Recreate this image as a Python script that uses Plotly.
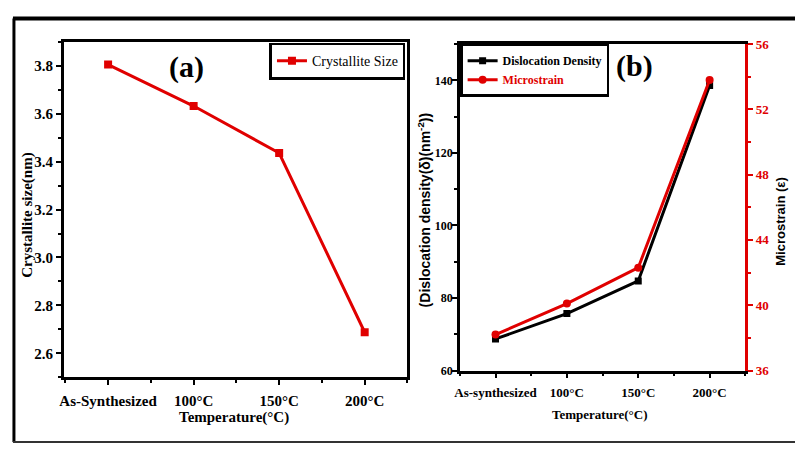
import plotly.graph_objects as go

# Annealing conditions (x axis categories)
categories_a = ["As-Synthesized", "100°C", "150°C", "200°C"]
categories_b = ["As-synthesized", "100°C", "150°C", "200°C"]

# Panel (a): crystallite size in nm
crystallite_size = [3.805, 3.632, 3.436, 2.688]

# Panel (b): dislocation density and microstrain
dislocation_density = [68.7, 75.7, 84.7, 138.6]
microstrain = [38.2, 40.1, 42.3, 53.8]

W, H = 795, 452
RED = "#e00000"
SERIF = "Liberation Serif"
SANS = "Liberation Sans"


def px(x):
    return x / W


def py(y):
    return 1 - y / H


xpos = list(range(len(categories_a)))

fig = go.Figure()

fig.add_trace(go.Scatter(
    x=xpos, y=crystallite_size, mode="lines+markers", name="Crystallite Size",
    line=dict(color=RED, width=3), marker=dict(symbol="square", size=8, color=RED),
    xaxis="x", yaxis="y", legend="legend",
))
fig.add_trace(go.Scatter(
    x=xpos, y=dislocation_density, mode="lines+markers", name="Dislocation Density",
    line=dict(color="black", width=3), marker=dict(symbol="square", size=7, color="black"),
    xaxis="x2", yaxis="y2", legend="legend2",
))
fig.add_trace(go.Scatter(
    x=xpos, y=microstrain, mode="lines+markers",
    name=f"<span style='color:{RED}'>Microstrain</span>",
    line=dict(color=RED, width=3), marker=dict(symbol="circle", size=8, color=RED),
    xaxis="x2", yaxis="y3", legend="legend2",
))

axis_common = dict(
    showline=True, linewidth=2.5, ticks="outside", ticklen=5, tickwidth=2,
    showgrid=False, zeroline=False,
)

fig.update_layout(
    width=W, height=H,
    margin=dict(l=0, r=0, t=0, b=0),
    paper_bgcolor="white", plot_bgcolor="white",
    showlegend=True,
    xaxis=dict(
        **axis_common, domain=[px(59), px(405)], range=[-0.52, 3.5],
        linecolor="black", tickcolor="black", mirror=True,
        tickmode="array", tickvals=xpos, ticktext=categories_a,
        tickfont=dict(family=SERIF, size=15, color="black", weight="bold"),
        ticklabelstandoff=3,
        minor=dict(tickmode="array", tickvals=[-0.5, 0.5, 1.5, 2.5, 3.5],
                   ticks="outside", ticklen=3, tickwidth=2, tickcolor="black"),
        anchor="y",
    ),
    yaxis=dict(
        **axis_common, domain=[py(383), py(36)], range=[2.5, 3.9],
        linecolor="black", tickcolor="black", mirror=True,
        tick0=2.6, dtick=0.2, tickformat=".1f",
        tickfont=dict(family=SERIF, size=15, color="black", weight="bold"),
        minor=dict(tick0=2.5, dtick=0.1, ticks="outside", ticklen=3,
                   tickwidth=2, tickcolor="black"),
        anchor="x",
    ),
    xaxis2=dict(
        **axis_common, domain=[px(457.7), px(745)], range=[-0.5, 3.5],
        linecolor="black", tickcolor="black", mirror=True,
        tickmode="array", tickvals=xpos, ticktext=categories_b,
        tickfont=dict(family=SERIF, size=13, color="black", weight="bold"),
        ticklabelstandoff=3,
        minor=dict(tickmode="array", tickvals=[-0.5, 0.5, 1.5, 2.5, 3.5],
                   ticks="outside", ticklen=3, tickwidth=2, tickcolor="black"),
        anchor="y2",
    ),
    yaxis2=dict(
        **axis_common, domain=[py(376), py(38.3)], range=[60, 150],
        linecolor="black", tickcolor="black",
        tick0=60, dtick=20,
        tickfont=dict(family=SERIF, size=12, color="black", weight="bold"),
        ticklabelstandoff=-3,
        minor=dict(tick0=60, dtick=10, ticks="outside", ticklen=3,
                   tickwidth=2, tickcolor="black"),
        anchor="x2",
    ),
    yaxis3=dict(
        **axis_common, domain=[py(376), py(38.3)], range=[36, 56],
        linecolor=RED, tickcolor=RED, side="right", overlaying="y2",
        tick0=36, dtick=4,
        tickfont=dict(family=SERIF, size=13, color=RED, weight="bold"),
        ticklabelstandoff=0,
        minor=dict(tick0=36, dtick=2, ticks="outside", ticklen=3,
                   tickwidth=2, tickcolor=RED),
        anchor="x2",
    ),
    legend=dict(
        x=px(403), y=py(37), xanchor="right", yanchor="top",
        bgcolor="white", bordercolor="black", borderwidth=2.5,
        font=dict(family=SERIF, size=14, color="black"),
        itemwidth=30, tracegroupgap=0,
    ),
    legend2=dict(
        x=px(458), y=py(38), xanchor="left", yanchor="top",
        bgcolor="white", bordercolor="black", borderwidth=2.5,
        font=dict(family=SERIF, size=12, color="black", weight="bold"),
        itemwidth=30, tracegroupgap=0,
    ),
)

annotations = [
    dict(x=px(183), y=py(62), text="<b>(a)</b>", font=dict(family=SERIF, size=30, color="black")),
    dict(x=px(633), y=py(61), text="<b>(b)</b>", font=dict(family=SERIF, size=30, color="black")),
    dict(x=px(23), y=py(215), text="<b>Crystallite size(nm)</b>", textangle=-90,
         font=dict(family=SERIF, size=15, color="black")),
    dict(x=px(230), y=py(425), text="<b>Temperature(°C)</b>",
         font=dict(family=SERIF, size=15, color="black")),
    dict(x=px(422), y=py(210), text="<b>(Dislocation density(δ)(nm<sup>-2</sup>))</b>",
         textangle=-90, font=dict(family=SANS, size=14, color="black")),
    dict(x=px(598), y=py(422), text="<b>Temperature(°C)</b>",
         font=dict(family=SERIF, size=13, color="black")),
    dict(x=px(781), y=py(222), text="<b>Microstrain (ε)</b>", textangle=-90,
         font=dict(family=SANS, size=13, color="black")),
]
for a in annotations:
    a.update(xref="paper", yref="paper", xanchor="center", yanchor="middle", showarrow=False)
fig.update_layout(annotations=annotations)

# Outer frame around both panels
fig.update_layout(shapes=[
    dict(type="line", xref="paper", yref="paper", x0=px(8), x1=1, y0=py(12), y1=py(12),
         line=dict(color="black", width=4)),
    dict(type="line", xref="paper", yref="paper", x0=px(9), x1=px(9), y0=py(12), y1=py(450),
         line=dict(color="black", width=3)),
    dict(type="line", xref="paper", yref="paper", x0=px(8), x1=1, y0=py(450), y1=py(450),
         line=dict(color="#333333", width=2)),
])

fig.write_html("out.html")
